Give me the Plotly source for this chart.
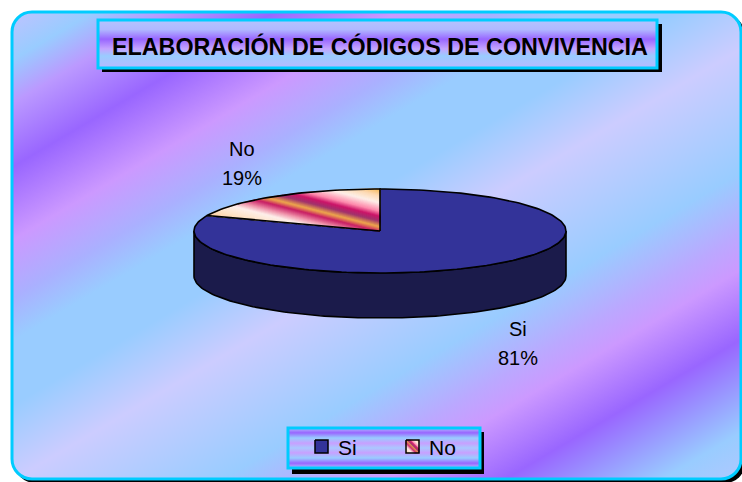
import base64
import numpy as np
import plotly.graph_objects as go

# ---------------- data ----------------
categories = ["Si", "No"]
values = [81, 19]
chart_title = "ELABORACIÓN DE CÓDIGOS DE CONVIVENCIA"

# ---------------- style ----------------
W, H = 742, 482
CX, CY, RX, RY, DEPTH = 380, 231, 186, 42, 45
top_colors = {"Si": "#333399", "No": None}
side_colors = {"Si": "#1b1b4b", "No": "#b07a50"}
no_stops = [(0.00, "#f5b347"), (0.10, "#ffd9b0"), (0.20, "#fff0e8"), (0.32, "#ff88aa"),
            (0.39, "#cc1166"), (0.46, "#a0306a"), (0.54, "#f0a848"), (0.61, "#c81a62"),
            (0.70, "#f090a8"), (0.78, "#fff0ea"), (0.90, "#ffe2c4"), (1.00, "#ffcfa0")]
FONT = "Arial, 'Liberation Sans', sans-serif"


def hex2rgb(h):
    h = h.lstrip("#")
    return [int(h[i:i + 2], 16) for i in (0, 2, 4)]


def interp(stops, t):
    t = min(max(t, 0), 1)
    for (a, ca), (b, cb) in zip(stops[:-1], stops[1:]):
        if a <= t <= b:
            f = 0 if b == a else (t - a) / (b - a)
            r1, r2 = hex2rgb(ca), hex2rgb(cb)
            c = [round(r1[i] + f * (r2[i] - r1[i])) for i in range(3)]
            return "rgb(%d,%d,%d)" % tuple(c)
    return stops[-1][1]


def clip(poly, nx, ny, c, ge=True):
    out = []
    n = len(poly)
    for i in range(n):
        P, Q = poly[i], poly[(i + 1) % n]
        pv = nx * P[0] + ny * P[1] - c
        qv = nx * Q[0] + ny * Q[1] - c
        if not ge:
            pv, qv = -pv, -qv
        if pv >= 0:
            out.append(P)
        if (pv >= 0) != (qv >= 0):
            t = pv / (pv - qv)
            out.append((P[0] + t * (Q[0] - P[0]), P[1] + t * (Q[1] - P[1])))
    return out


def striped(poly, nx, ny, stops, nb=70):
    ps = [nx * x + ny * y for x, y in poly]
    lo, hi = min(ps), max(ps)
    traces = []
    for i in range(nb):
        a = lo + (hi - lo) * i / nb
        b = lo + (hi - lo) * (i + 1) / nb
        band = clip(clip(poly, nx, ny, a, True), nx, ny, b, False)
        if len(band) < 3:
            continue
        col = interp(stops, (i + 0.5) / nb)
        xs = [p[0] for p in band] + [band[0][0]]
        ys = [p[1] for p in band] + [band[0][1]]
        traces.append(go.Scatter(x=xs, y=ys, mode="lines", fill="toself", fillcolor=col,
                                 line=dict(color=col, width=0.8), hoverinfo="skip",
                                 showlegend=False))
    return traces


def arc(a0, a1, dy=0, n=None):
    if n is None:
        n = max(int(abs(a1 - a0) / 1.5), 2)
    t = np.radians(np.linspace(a0, a1, n))
    return list(zip(CX + RX * np.cos(t), CY - RY * np.sin(t) + dy))


# ---------------- slices ----------------
total = sum(values)
slices = []
start = 90.0
for cat, v in zip(categories, values):
    a0, a1 = start, start - 360.0 * v / total
    slices.append((cat, v, a0, a1))
    start = a1

fig = go.Figure()

# sides (front half only)
for cat, v, a0, a1 in slices:
    for k in (-720, -360, 0, 360):
        lo, hi = max(a1, -180 + k), min(a0, 0 + k)
        if hi > lo:
            pts = arc(lo, hi) + arc(hi, lo, DEPTH)
            fig.add_trace(go.Scatter(x=[p[0] for p in pts] + [pts[0][0]],
                                     y=[p[1] for p in pts] + [pts[0][1]],
                                     mode="lines", fill="toself", fillcolor=side_colors[cat],
                                     line=dict(color="black", width=1.6), hoverinfo="skip",
                                     showlegend=False))

# tops
for cat, v, a0, a1 in slices:
    pts = [(CX, CY)] + arc(a0, a1)
    xs = [p[0] for p in pts] + [CX]
    ys = [p[1] for p in pts] + [CY]
    if top_colors[cat]:
        fig.add_trace(go.Scatter(x=xs, y=ys, mode="lines", fill="toself",
                                 fillcolor=top_colors[cat], line=dict(color="black", width=1.6),
                                 hoverinfo="skip", showlegend=False))
    else:
        for tr in striped(pts, -0.25, 0.97, no_stops):
            fig.add_trace(tr)
        fig.add_trace(go.Scatter(x=xs, y=ys, mode="lines", line=dict(color="black", width=1.6),
                                 hoverinfo="skip", showlegend=False))

# data labels
for cat, v, a0, a1 in slices:
    m = np.radians((a0 + a1) / 2)
    lx = CX + 1.32 * RX * np.cos(m)
    ly = CY - 1.94 * RY * np.sin(m) + (DEPTH if np.sin(m) < 0 else 0)
    pct = "%d%%" % round(100 * v / total)
    fig.add_annotation(x=lx, y=ly - 14.5, text=cat, showarrow=False, xref="x", yref="y",
                       font=dict(family=FONT, size=20, color="black"))
    fig.add_annotation(x=lx, y=ly + 14.5, text=pct, showarrow=False, xref="x", yref="y",
                       font=dict(family=FONT, size=20, color="black"))

# legend (drawn)
for i, cat in enumerate(categories):
    x0, y0, s = 315 + 91 * i, 440, 13
    sq = [(x0, y0), (x0 + s, y0), (x0 + s, y0 + s), (x0, y0 + s)]
    if top_colors[cat]:
        fig.add_trace(go.Scatter(x=[p[0] for p in sq] + [x0], y=[p[1] for p in sq] + [y0],
                                 mode="lines", fill="toself", fillcolor=top_colors[cat],
                                 line=dict(color="black", width=1.5), hoverinfo="skip",
                                 showlegend=False))
    else:
        for tr in striped(sq, -0.707, 0.707, no_stops, nb=20):
            fig.add_trace(tr)
        fig.add_trace(go.Scatter(x=[p[0] for p in sq] + [x0], y=[p[1] for p in sq] + [y0],
                                 mode="lines", line=dict(color="black", width=1.5),
                                 hoverinfo="skip", showlegend=False))
    fig.add_annotation(x=x0 + s + 8, y=447, text=cat, showarrow=False, xanchor="left",
                       xref="x", yref="y", font=dict(family=FONT, size=21, color="black"))

# title
fig.add_annotation(x=380, y=46, text="<b>%s</b>" % chart_title, showarrow=False, xref="x",
                   yref="y", font=dict(family=FONT, size=23.3, color="black"))

# ---------------- background (svg) ----------------
bg_stops = [(0, "#c4c4ff"), (24, "#b8c4ff"), (58, "#99ccff"), (95, "#bb99ff"), (150, "#9966ff"),
            (213, "#cc99ff"), (263, "#aab0ff"), (300, "#99ccff"), (355, "#99ccff"),
            (420, "#ccccff"), (526, "#99ccff"), (580, "#bba8ff"), (610, "#cc99ff"),
            (670, "#9966ff"), (750, "#99ccff"), (793, "#b0c8ff")]
title_stops = [(0, "#b4c4ff"), (0.2, "#b0b8ff"), (0.4, "#9966ff"), (0.6, "#c4a4ff"),
               (0.75, "#99ccff"), (1, "#b8b8ff")]
legend_stops = [(0, "#b0b8ff"), (0.12, "#9966ff"), (0.25, "#99ccff"), (0.38, "#c8a0ff"),
                (0.5, "#aac8ff"), (0.62, "#c8a0ff"), (0.75, "#99ccff"), (0.88, "#9966ff"),
                (1, "#b0c0ff")]


def stops_svg(st, scale=1.0):
    return "".join('<stop offset="%.4f" stop-color="%s"/>' % (o / scale, c) for o, c in st)


svg = (
    '<svg xmlns="http://www.w3.org/2000/svg" width="%d" height="%d" viewBox="0 0 %d %d" '
    'preserveAspectRatio="none"><defs>' % (W, H, W, H)
    + '<linearGradient id="bg" gradientUnits="userSpaceOnUse" x1="0" y1="0" x2="404" y2="682">'
    + stops_svg(bg_stops, 793.0) + '</linearGradient>'
    + '<linearGradient id="tb" x1="0" y1="0" x2="0" y2="1">' + stops_svg(title_stops)
    + '</linearGradient>'
    + '<linearGradient id="lg" x1="0" y1="0" x2="0" y2="1">' + stops_svg(legend_stops)
    + '</linearGradient></defs>'
    + '<rect x="0" y="0" width="%d" height="%d" fill="white"/>' % (W, H)
    + '<rect x="15" y="15" width="730" height="468" rx="20" ry="20" fill="black"/>'
    + '<rect x="12" y="12" width="729" height="467" rx="20" ry="20" fill="url(#bg)" '
      'stroke="#00ccff" stroke-width="3"/>'
    + '<rect x="102" y="24" width="560" height="48" fill="black"/>'
    + '<rect x="98" y="20" width="559" height="48" fill="url(#tb)" stroke="#00ccff" '
      'stroke-width="3"/>'
    + '<rect x="292" y="432" width="192" height="42" fill="black"/>'
    + '<rect x="288" y="428" width="192" height="40" fill="url(#lg)" stroke="#00ccff" '
      'stroke-width="3"/>'
    + '</svg>'
)
src = "data:image/svg+xml;base64," + base64.b64encode(svg.encode("utf-8")).decode("ascii")

fig.update_layout(
    width=W, height=H,
    margin=dict(l=0, r=0, t=0, b=0),
    paper_bgcolor="white",
    plot_bgcolor="rgba(0,0,0,0)",
    xaxis=dict(range=[0, W], visible=False, fixedrange=True),
    yaxis=dict(range=[H, 0], visible=False, fixedrange=True),
    showlegend=False,
    images=[dict(source=src, xref="paper", yref="paper", x=0, y=1, sizex=1, sizey=1,
                 xanchor="left", yanchor="top", sizing="stretch", layer="below")],
)

fig.write_html(
    "out.html",
    config={"displayModeBar": False},
    post_script="document.body.style.margin='0';document.body.style.overflow='hidden';",
)
